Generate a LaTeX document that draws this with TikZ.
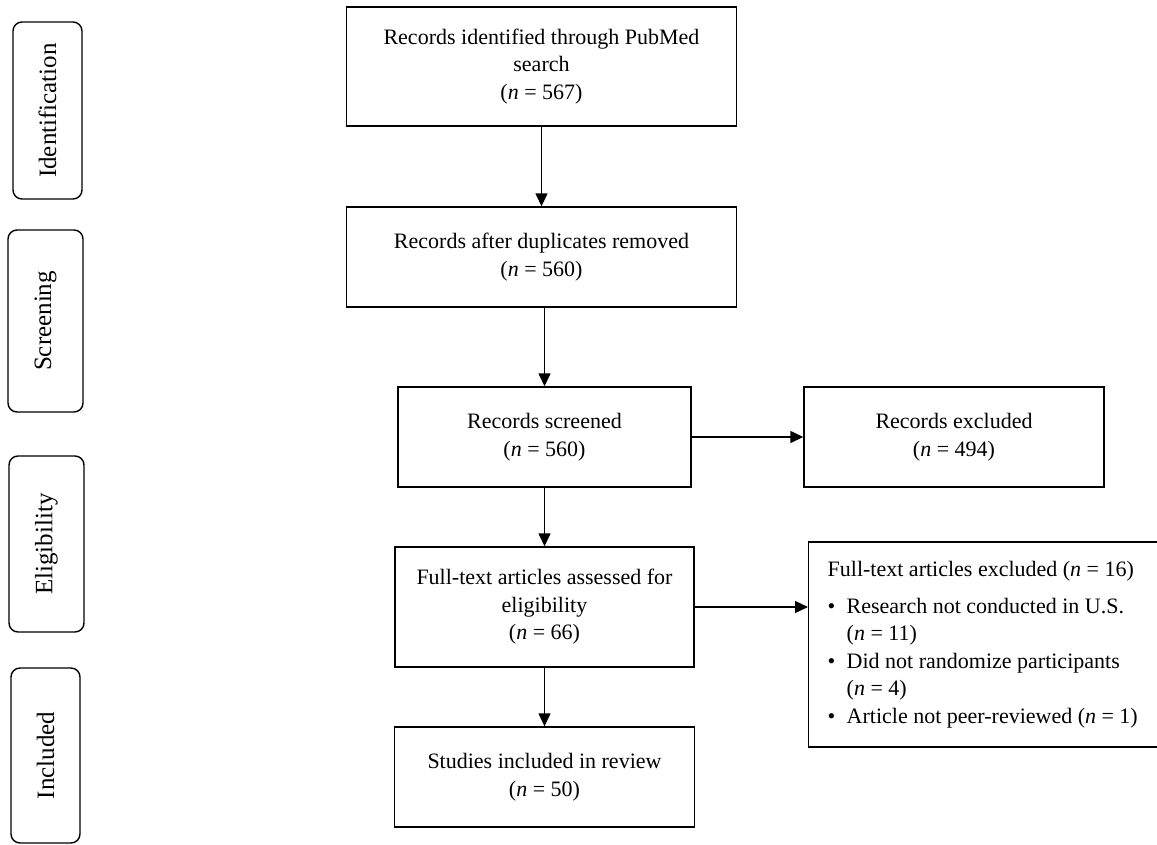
\documentclass[tikz,border=0pt]{standalone}
\usepackage{fontspec}
\setmainfont{Liberation Serif}
\usetikzlibrary{arrows.meta,positioning}
\tikzset{
  flowbox/.style={
    draw,rectangle,line width=1.4pt,align=center,inner sep=0pt
  },
  phase/.style={
    draw,rectangle,rounded corners=9pt,line width=1.4pt,
    rotate=90,inner sep=0pt,font=\fontsize{25}{30}\selectfont
  },
  flow/.style={-{Triangle[length=13pt,width=12pt]},line width=1.4pt}
}

\begin{document}
\begin{tikzpicture}[x=1pt,y=1pt,font=\fontsize{22}{27.5}\selectfont]
\useasboundingbox (0,0) rectangle (1157,-844);

% phase labels on the left
\node[phase,minimum width=177,minimum height=69] (ident) at (47.5,-110.5) {Identification};
\node[phase,minimum width=182,minimum height=75] (screening) at (45.5,-321) {Screening};
\node[phase,minimum width=176,minimum height=75] (elig) at (46.5,-544) {Eligibility};
\node[phase,minimum width=175,minimum height=69] (incl) at (45.5,-755.5) {Included};

% main column
\node[flowbox,minimum width=390,minimum height=119] (search) at (541.5,-66.5) {
Records identified through PubMed\\
search\\
(\textit{n} = 567)
};
\node[flowbox,minimum width=390,minimum height=100] (dedup) at (541.5,-257) {
Records after duplicates removed\\
(\textit{n} = 560)
};
\node[flowbox,minimum width=293,minimum height=100] (screen) at (544.5,-437) {
Records screened\\
(\textit{n} = 560)
};
\node[flowbox,minimum width=299,minimum height=120] (full) at (544.5,-607) {
Full-text articles assessed for\\
eligibility\\
(\textit{n} = 66)
};
\node[flowbox,minimum width=300,minimum height=100] (studies) at (544.5,-777) {
Studies included in review\\
(\textit{n} = 50)
};

% exclusions on the right
\node[flowbox,minimum width=300,minimum height=100] (recexcl) at (954,-437) {
Records excluded\\
(\textit{n} = 494)
};
\node[flowbox,minimum height=205,text width=318,align=flush left,inner xsep=19pt,
  anchor=west] (fullexcl) at (808,-644.5) {
Full-text articles excluded (\textit{n} = 16)\\[9pt]
\makebox[19pt][l]{\textbullet}Research not conducted in U.S.\\
\hspace*{19pt}(\textit{n} = 11)\\
\makebox[19pt][l]{\textbullet}Did not randomize participants\\
\hspace*{19pt}(\textit{n} = 4)\\
\makebox[19pt][l]{\textbullet}Article not peer-reviewed (\textit{n} = 1)
};

\draw[flow] (search) -- (dedup);
\draw[flow] (dedup.south -| screen.north) -- (screen.north);
\draw[flow] (screen) -- (full);
\draw[flow] (full) -- (studies);
\draw[flow] (screen) -- (recexcl);
\draw[flow] (full.east) -- (full.east -| fullexcl.west);

\end{tikzpicture}
\end{document}
